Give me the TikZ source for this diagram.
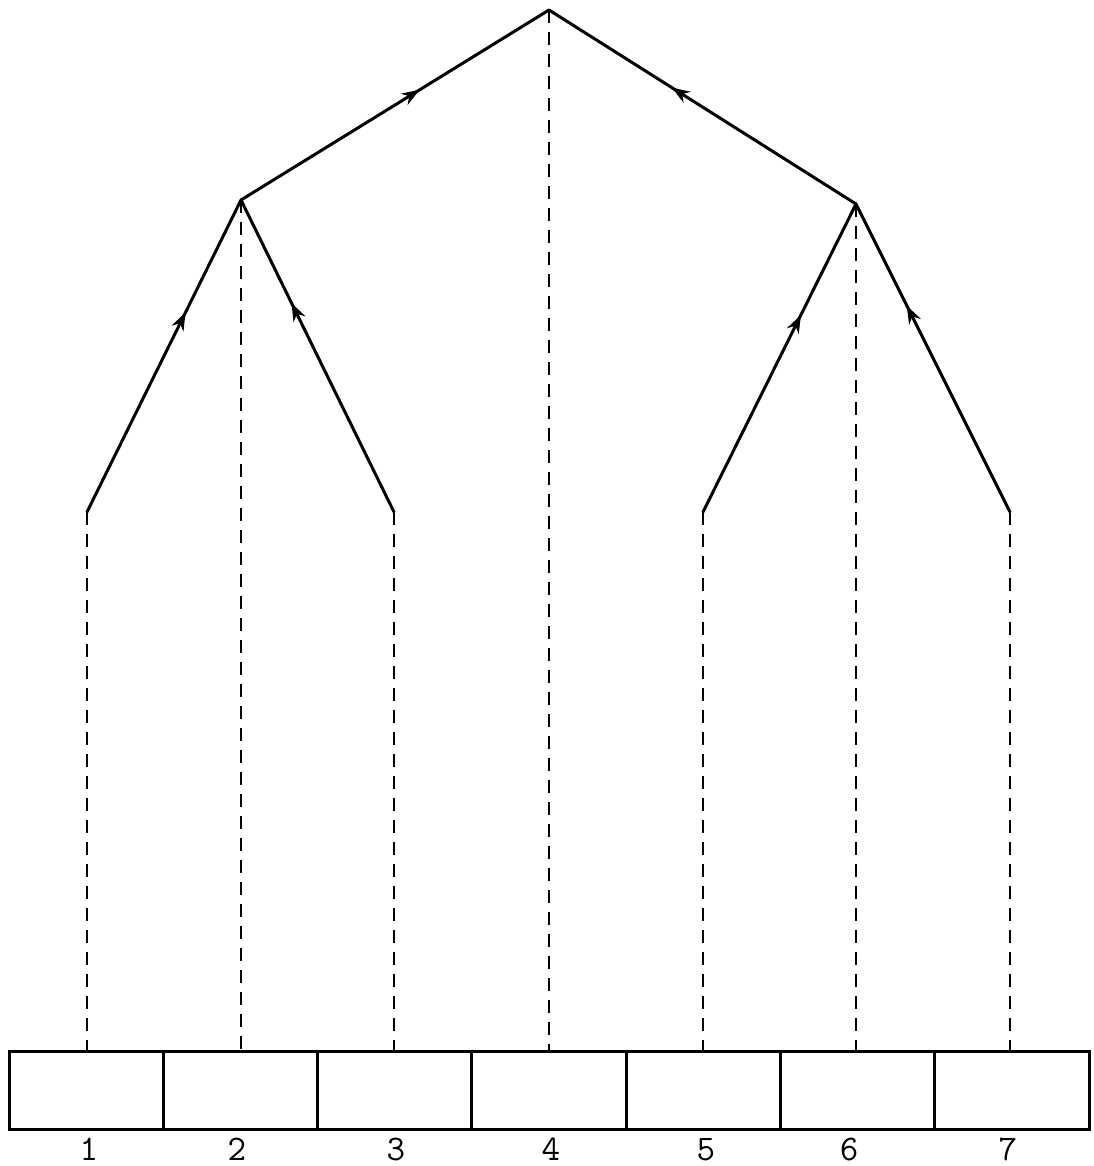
\documentclass[tikz,border=0pt]{standalone}
\usetikzlibrary{decorations.markings,arrows.meta}
\begin{document}
\begin{tikzpicture}[x=1pt,y=-1pt,
  edge/.style={line width=3pt,line cap=round,line join=miter,
    postaction={decorate},
    decoration={markings,mark=at position #1 with {\arrow{Stealth[length=18pt,width=13pt]}}}},
  edge/.default=0.62,
  guide/.style={line width=2.8pt,dash pattern=on 13pt off 9pt},
  cell/.style={draw,line width=3pt,minimum width=154.3pt,minimum height=78pt,inner sep=0pt,outer sep=0pt,anchor=north},
  lab/.style={font=\fontsize{36}{36}\ttfamily,inner sep=0pt,anchor=base}]
\useasboundingbox (0,0) rectangle (1093,1166);
% tree nodes
\coordinate (t) at (549,10);
\coordinate (m1) at (241,200);
\coordinate (m2) at (856,204);
\coordinate (l1) at (87,512);
\coordinate (l2) at (394,512);
\coordinate (l3) at (703,512);
\coordinate (l4) at (1010,512);
% cells
\foreach \i in {1,...,7}{
  \node[cell] (c\i) at ({9+77.15+154.3*(\i-1)},1051) {};
}
% labels
\node[lab] (n1) at (89,1160) {1};
\node[lab] (n2) at (237,1160) {2};
\node[lab] (n3) at (396,1160) {3};
\node[lab] (n4) at (551,1160) {4};
\node[lab] (n5) at (706,1160) {5};
\node[lab] (n6) at (849,1160) {6};
\node[lab] (n7) at (1008,1160) {7};
% dashed guides
\draw[guide] (l1) -- (l1 |- c1.north);
\draw[guide] (m1) -- (m1 |- c2.north);
\draw[guide] (l2) -- (l2 |- c3.north);
\draw[guide] (t) -- (t |- c4.north);
\draw[guide] (l3) -- (l3 |- c5.north);
\draw[guide] (m2) -- (m2 |- c6.north);
\draw[guide] (l4) -- (l4 |- c7.north);
% tree edges
\draw[edge=0.58] (m1) -- (t);
\draw[edge=0.6] (m2) -- (t);
\draw[edge=0.64] (l1) -- (m1);
\draw[edge=0.67] (l2) -- (m1);
\draw[edge=0.64] (l3) -- (m2);
\draw[edge=0.67] (l4) -- (m2);
\end{tikzpicture}
\end{document}
